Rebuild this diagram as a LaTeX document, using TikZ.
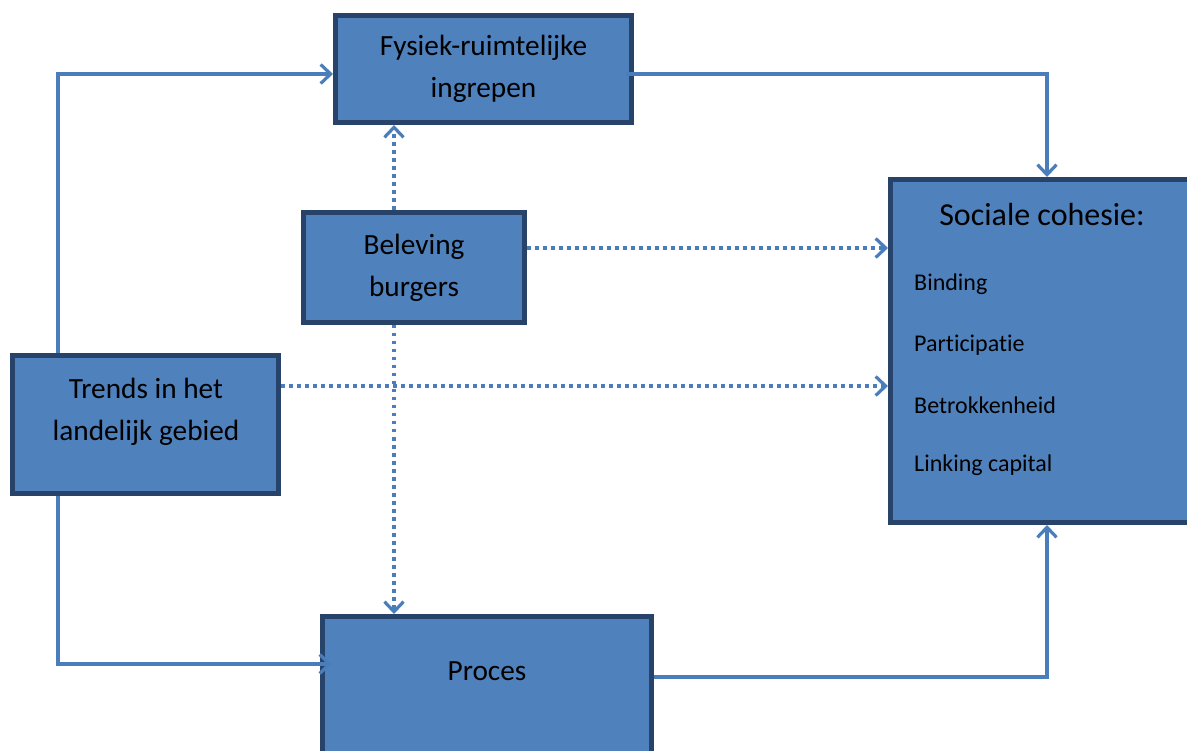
\documentclass[tikz,border=0pt]{standalone}
\usepackage{fontspec}
\setmainfont{Carlito}[Ligatures={NoCommon}]
\usetikzlibrary{arrows.meta}
\definecolor{boxfill}{HTML}{4F81BD}
\definecolor{boxline}{HTML}{27436A}
\definecolor{conn}{HTML}{4A7EBB}
\tikzset{
  box/.style={draw=boxline, fill=boxfill, line width=5pt, rectangle, inner sep=0pt},
  maintext/.style={font=\fontsize{29.3}{42}\selectfont, align=center, text=black},
  titletext/.style={font=\fontsize{32}{38}\selectfont, text=black},
  itemtext/.style={font=\fontsize{24}{28}\selectfont, text=black, anchor=west, inner sep=0pt},
  solidconn/.style={draw=conn, line width=3.2pt, -{Straight Barb[length=10pt,width=19pt]}},
  dotconn/.style={draw=conn, line width=3.2pt, dash pattern=on 3.5pt off 4.5pt, -{Straight Barb[length=10pt,width=19pt]}}
}
\begin{document}
\begin{tikzpicture}[x=1pt,y=-1pt]
\useasboundingbox (0,0) rectangle (1187,751);
\clip (0,0) rectangle (1187,751);
% boxes
\node[box, minimum width=296pt, minimum height=107pt, maintext] (fys) at (483.5,69) {Fysiek-ruimtelijke\\ingrepen};
\node[box, minimum width=221pt, minimum height=110pt, maintext] (bel) at (414,267.5) {Beleving\\burgers};
\node[box, minimum width=266pt, minimum height=138pt] (trends) at (145.5,424.5) {};
\node[box, minimum width=302pt, minimum height=343pt] (soc) at (1041.5,351) {};
\node[box, minimum width=329pt, minimum height=171pt] (proc) at (487,702) {};
% texts
\node[maintext] (trendstext) at (146,412) {Trends in het\\landelijk gebied};
\node[titletext] (soctitle) at (1042,215) {Sociale cohesie:};
\node[itemtext] (i1) at (914,284) {Binding};
\node[itemtext] (i2) at (914,345) {Participatie};
\node[itemtext] (i3) at (914,405) {Betrokkenheid};
\node[itemtext] (i4) at (914,465) {Linking capital};
\node[maintext] (proctext) at (487,671) {Proces};
% coordinates for routing
\coordinate (lt) at (58,74);
\coordinate (lb) at (58,664);
\coordinate (rt) at (1047,74);
\coordinate (rb) at (1047,677);
\coordinate (bx) at (394,0);
\coordinate (by) at (0,248);
\coordinate (ty) at (0,386);
% solid connectors
\draw[solidconn] (lt |- trends.north) -- (lt) -- (lt -| fys.west);
\draw[solidconn] (lb |- trends.south) -- (lb) -- ([xshift=12pt]lb -| proc.west);
\draw[solidconn] ([xshift=-8pt]rt -| fys.east) -- (rt) -- (rt |- soc.north);
\draw[solidconn] (rb -| proc.east) -- (rb) -- (rb |- soc.south);
% dotted connectors
\draw[dotconn] (bx |- bel.north) -- (bx |- fys.south);
\draw[dotconn] (bx |- bel.south) -- (bx |- proc.north);
\draw[dotconn] (by -| bel.east) -- (by -| soc.west);
\draw[dotconn] (ty -| trends.east) -- (ty -| soc.west);
\end{tikzpicture}
\end{document}
